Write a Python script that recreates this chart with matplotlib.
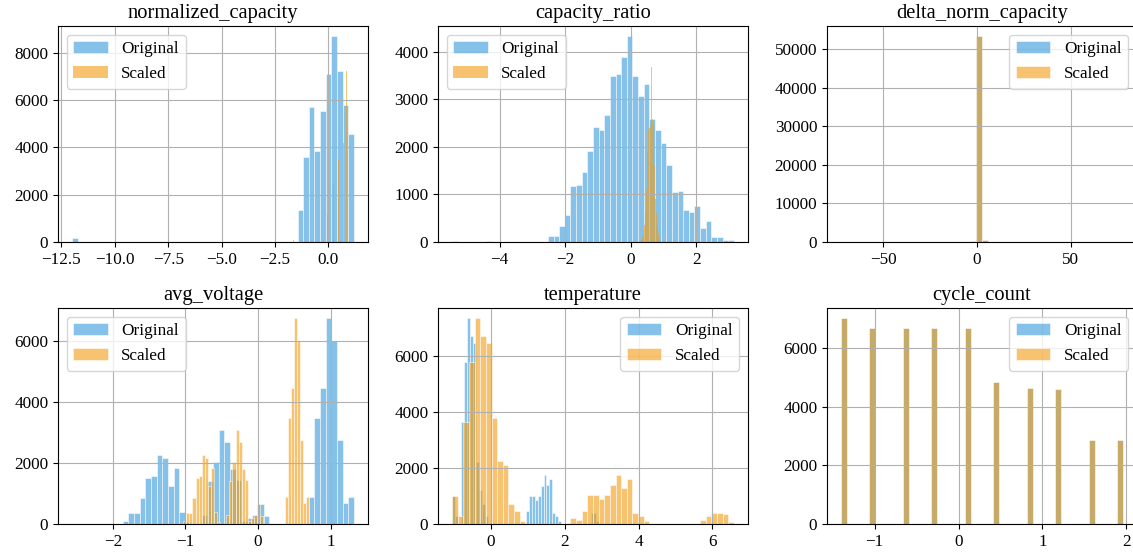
import numpy as np
import matplotlib
matplotlib.use("Agg")
import matplotlib.pyplot as plt

plt.rcParams['font.family'] = ['Liberation Serif', 'DejaVu Serif']
plt.rcParams['font.size'] = 12.3

# ---------------- data (bin ranges + counts, 50 bins each) ----------------
titles = ["normalized_capacity", "capacity_ratio", "delta_norm_capacity",
          "avg_voltage", "temperature", "cycle_count"]

def sparse(n, d):
    c = [0] * n
    for k, v in d.items():
        c[k] = v
    return c

# normalized_capacity
nc_orig_range = (-12.0, 1.2)
nc_orig_counts = sparse(50, {0: 150, 40: 1350, 41: 3600, 42: 5700, 43: 3850, 44: 5550,
                             45: 7100, 46: 8700, 47: 7250, 48: 5800, 49: 4550})
nc_scal_range = (-1.65, 1.0)
nc_scal_counts = sparse(50, {0: 100, 30: 1200, 35: 2500, 40: 3500, 44: 4200, 47: 7250})

# capacity_ratio
cr_orig_range = (-5.45, 3.15)
cr_orig_counts = sparse(50, {0: 30, 6: 30})
cr_orig_counts[17:50] = [130, 120, 330, 570, 1180, 1200, 1460, 1910, 2420, 2350, 2660,
                         3490, 3530, 3890, 4320, 3490, 3070, 3320, 2580, 2350, 2080,
                         1610, 1060, 1080, 680, 630, 750, 290, 450, 100, 100, 50, 40]
cr_scal_range = (0.28, 0.98)
cr_scal_counts = [10, 20, 30, 50, 70, 100, 130, 170, 220, 280,
                  350, 450, 600, 800, 1100, 1500, 1900, 2200, 2350, 2400,
                  2400, 2400, 2400, 2450, 2500, 3680, 2550, 2580, 2560, 2500,
                  2200, 1600, 1200, 1000, 900, 750, 600, 450, 330, 240,
                  170, 120, 80, 50, 30, 20, 12, 8, 5, 3]

# delta_norm_capacity
dn_orig_range = (-72.3, 77.7)
dn_orig_counts = sparse(50, {0: 3, 23: 150, 24: 53400, 25: 400, 49: 3})
dn_scal_range = (-72.3, 77.7)
dn_scal_counts = list(dn_orig_counts)

# avg_voltage
av_orig_range = (-2.56, 1.32)
av_orig_counts = sparse(50, {0: 5, 9: 110, 10: 375, 11: 375, 12: 840, 13: 1510, 14: 1565,
                             15: 2260, 16: 2160, 17: 1235, 18: 1830, 19: 400, 20: 50,
                             23: 300, 24: 1400, 25: 2050, 26: 3100, 27: 2700, 28: 1800,
                             29: 1450, 30: 100, 31: 200, 32: 300, 33: 650, 34: 250,
                             42: 900, 43: 3480, 44: 4470, 45: 6750, 46: 6020, 47: 2760,
                             48: 700, 49: 900})
av_scal_range = (-1.41, 0.705)
av_scal_counts = list(av_orig_counts)

# temperature
tp_orig_range = (-1.037, 2.94)
tp_orig_counts = sparse(50, {0: 1000, 1: 300, 3: 3650, 4: 5800, 5: 7350, 6: 6700, 7: 6450,
                             8: 2200, 9: 1200, 10: 700, 11: 300,
                             25: 450, 26: 1000, 27: 1000, 28: 870, 29: 1000, 30: 1350,
                             31: 1750, 32: 1380, 33: 1600, 34: 400, 35: 300, 36: 120,
                             47: 380, 48: 400, 49: 100})
tp_scal_range = (-1.045, 6.58)
tp_scal_counts = sparse(50, {0: 1000, 1: 300, 2: 3650, 3: 5800, 4: 7350, 5: 6700, 6: 6450,
                             7: 3800, 8: 2250, 9: 2100, 10: 700, 11: 450, 12: 100,
                             21: 200, 22: 150, 23: 450, 24: 1050, 25: 1050, 26: 900,
                             27: 1050, 28: 1400, 29: 1750, 30: 1300, 31: 1600, 32: 400,
                             33: 300, 34: 100, 44: 150, 45: 300, 46: 400, 47: 400,
                             48: 350, 49: 60})

# cycle_count
cc_orig_range = (-1.40, 1.96)
cc_orig_counts = sparse(50, {0: 7010, 5: 6690, 11: 6690, 16: 6690, 22: 6690, 27: 4830,
                             33: 4640, 38: 4600, 44: 2860, 49: 2860})
cc_scal_range = (-1.40, 1.96)
cc_scal_counts = list(cc_orig_counts)

panels = [
    (nc_orig_range, nc_orig_counts, nc_scal_range, nc_scal_counts, 'upper left'),
    (cr_orig_range, cr_orig_counts, cr_scal_range, cr_scal_counts, 'upper left'),
    (dn_orig_range, dn_orig_counts, dn_scal_range, dn_scal_counts, 'upper right'),
    (av_orig_range, av_orig_counts, av_scal_range, av_scal_counts, 'upper left'),
    (tp_orig_range, tp_orig_counts, tp_scal_range, tp_scal_counts, 'upper right'),
    (cc_orig_range, cc_orig_counts, cc_scal_range, cc_scal_counts, 'upper right'),
]

BLUE = '#3498db'
ORANGE = '#f39c12'

W, H = 1133, 556
fig = plt.figure(figsize=(W / 100, H / 100), dpi=100)

lefts = [58, 438, 827]
width = 310
tops = [26, 308]
height = 216

for i, (orng, ocnt, srng, scnt, loc) in enumerate(panels):
    r, c = divmod(i, 3)
    ax = fig.add_axes([lefts[c] / W, 1 - (tops[r] + height) / H, width / W, height / H])
    lo = min(orng[0], srng[0])
    hi = max(orng[1], srng[1])
    span = 1.1 * (hi - lo)
    for rng, cnt, col, lab in [(orng, ocnt, BLUE, 'Original'), (srng, scnt, ORANGE, 'Scaled')]:
        edges = np.linspace(rng[0], rng[1], len(cnt) + 1)
        centers = 0.5 * (edges[:-1] + edges[1:])
        bin_px = (rng[1] - rng[0]) / len(cnt) / span * width
        lw = 0.6 if bin_px > 2.5 else 0.0
        ax.hist(centers, bins=edges, weights=cnt, color=col, alpha=0.6,
                edgecolor='white', linewidth=lw, label=lab)
    ax.grid(True)
    ax.set_title(titles[i])
    ax.legend(loc=loc)

fig.savefig("out.png", dpi=100)
